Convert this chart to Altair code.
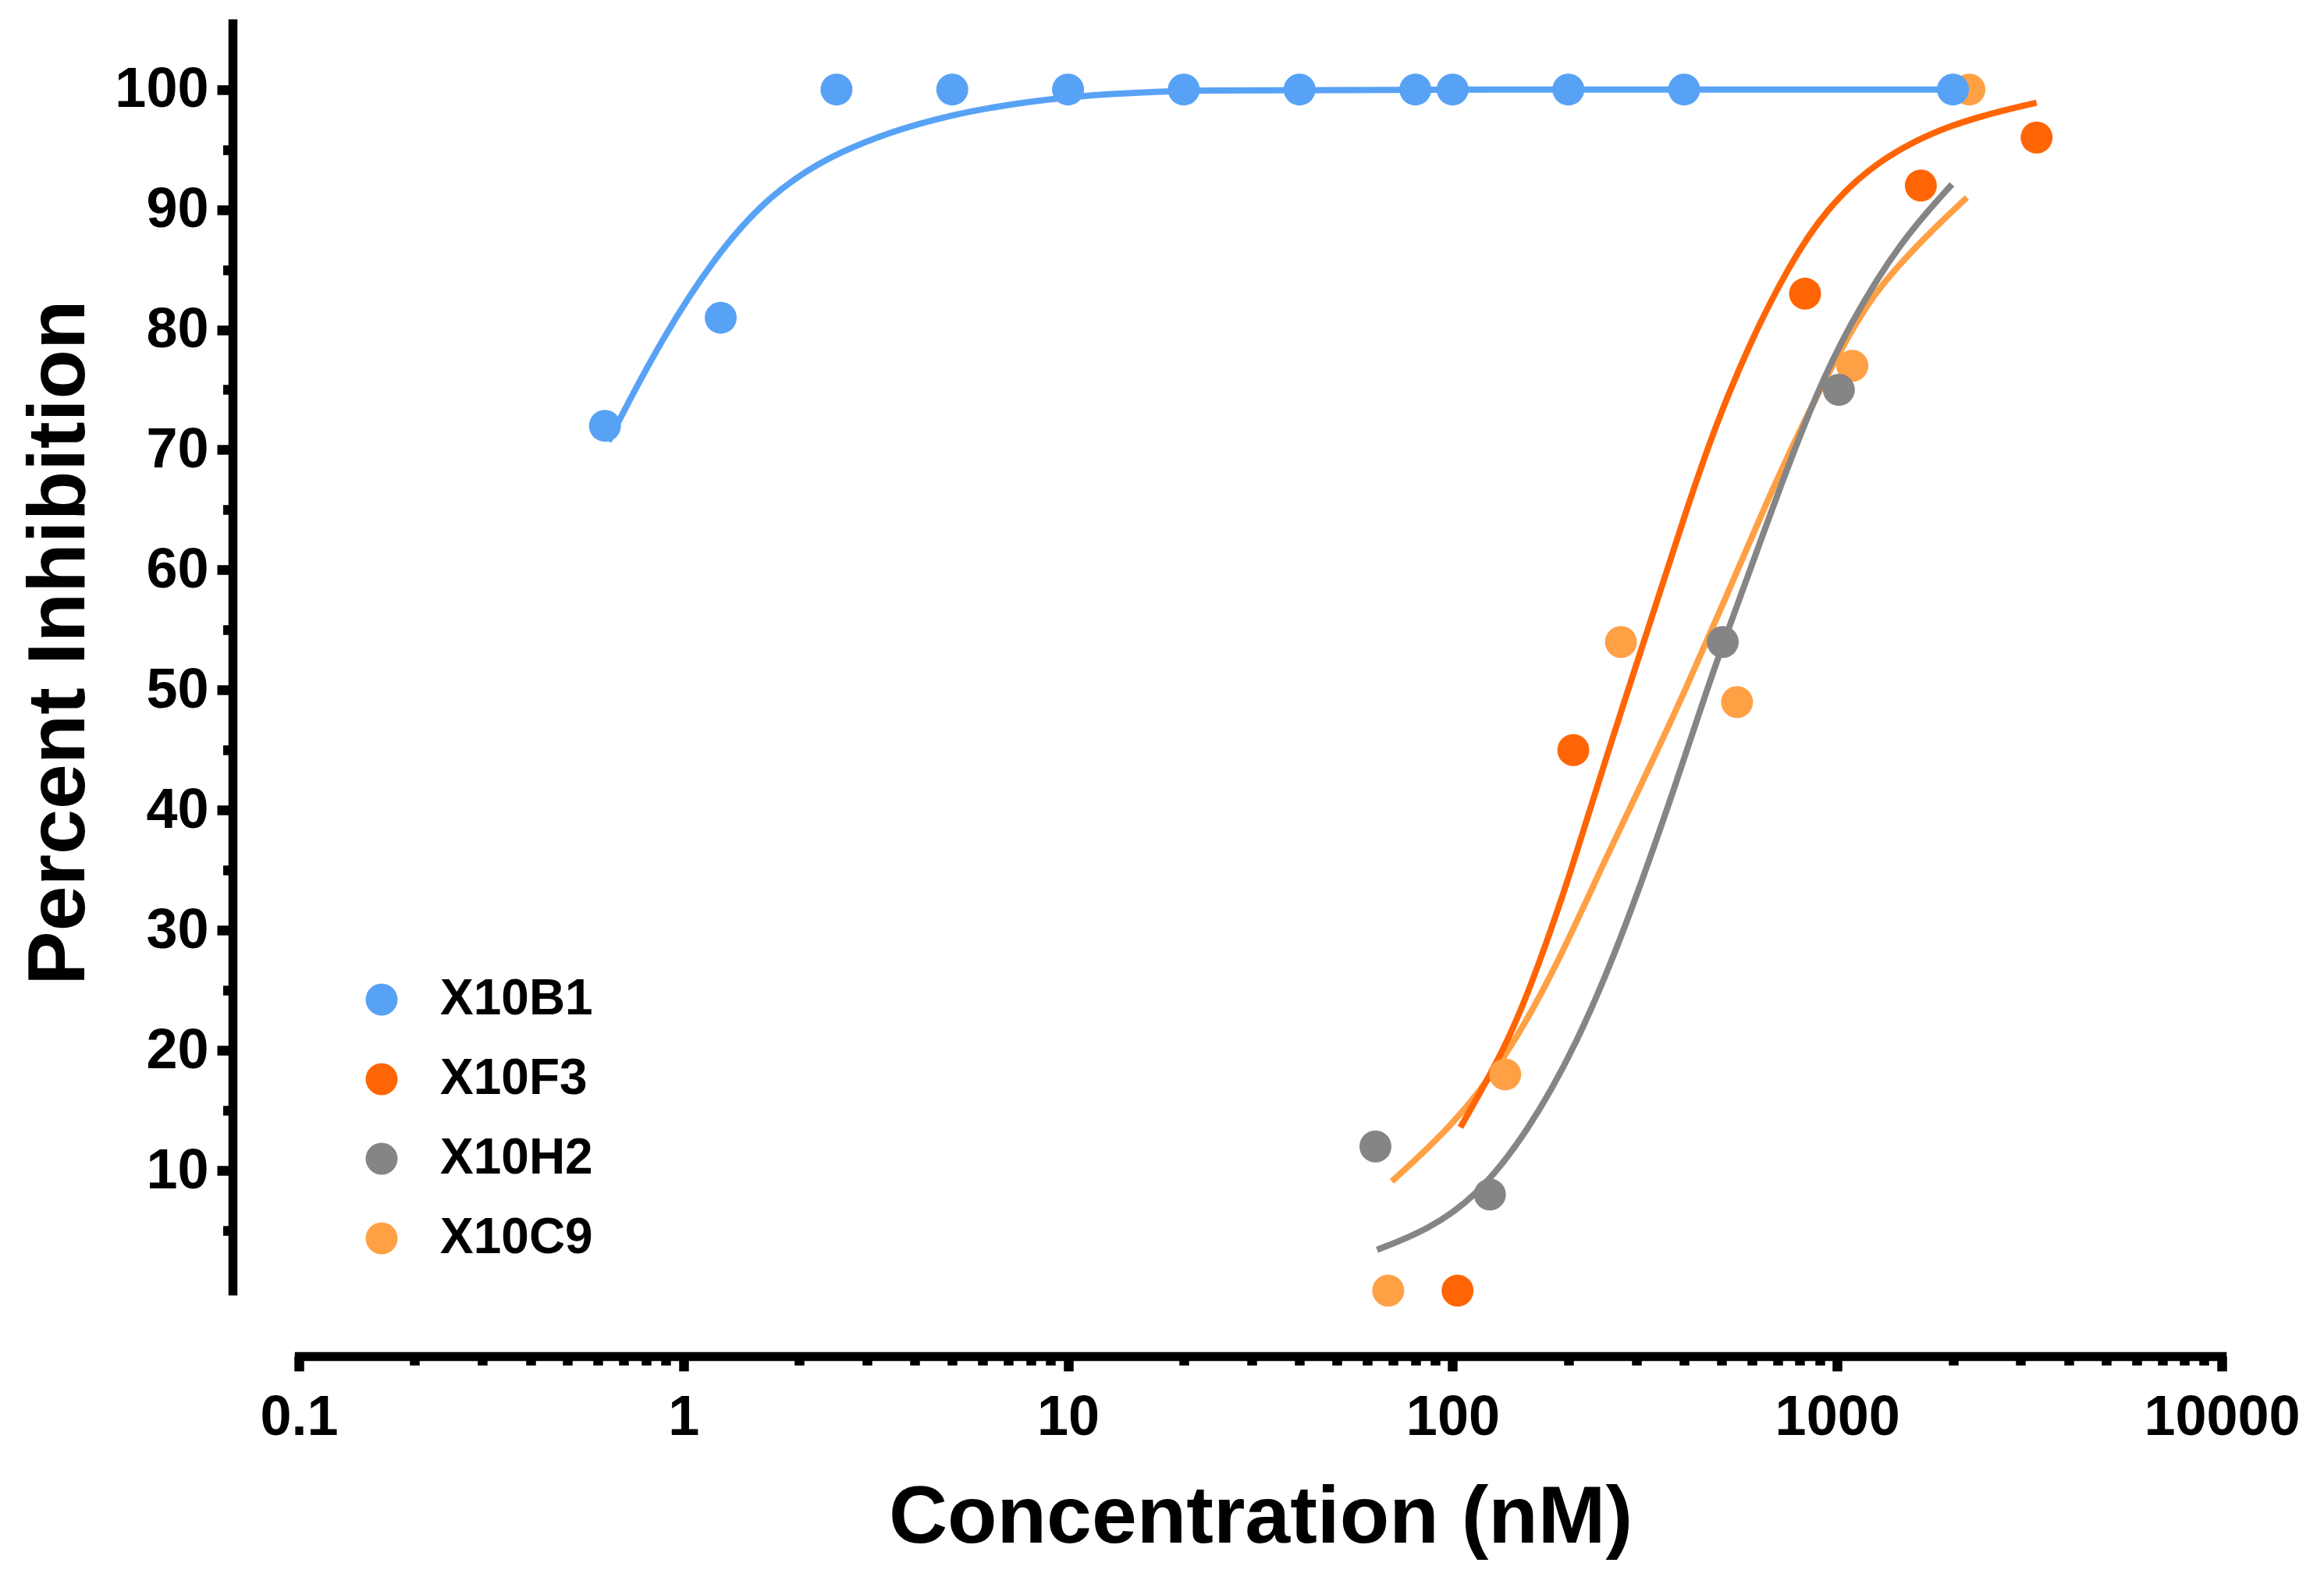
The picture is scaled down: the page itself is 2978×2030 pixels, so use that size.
import altair as alt
import pandas as pd

FONT = "Liberation Sans"

series_names = ["X10B1", "X10F3", "X10H2", "X10C9"]
series_colors = ["#58A2F6", "#FF6505", "#858585", "#FFA045"]

# measured points
conc_B1 = [0.625, 1.25, 2.5, 5, 10, 20, 40, 80, 100, 200, 400, 2000]
inh_B1 = [72, 81, 100, 100, 100, 100, 100, 100, 100, 100, 100, 100]
conc_F3 = [103, 206, 825, 1650, 3300]
inh_F3 = [0, 45, 83, 92, 96]
conc_H2 = [63, 125, 504, 1010]
inh_H2 = [12, 8, 54, 75]
conc_C9 = [68, 137, 274, 549, 1095, 2206]
inh_C9 = [0, 18, 54, 49, 77, 100]

# fitted curves
fit_x_B1 = [0.639, 0.709, 0.887, 1.177, 1.634, 2.48, 4.77, 10.07, 19.95, 100, 2000]
fit_y_B1 = [70.7, 73.6, 79.4, 85.6, 91.0, 94.9, 98.0, 99.5, 100.0, 100.0, 100.0]
fit_x_F3 = [104.8, 137.9, 165, 203, 250, 337, 403.5, 482, 594, 754, 929, 1252, 1959, 3300]
fit_y_F3 = [13.6, 20.3, 26.5, 34.8, 44.3, 57.0, 64.8, 72.0, 79.0, 85.5, 89.9, 94.0, 97.2, 98.9]
fit_x_H2 = [63.6, 85.6, 115.3, 155.3, 209.4, 282.1, 385, 468, 594, 690, 876, 1079, 1454, 1988]
fit_y_H2 = [3.4, 5.0, 7.8, 13.0, 20.3, 30.2, 42.6, 51.0, 60.0, 65.8, 74.5, 80.5, 87.3, 92.1]
fit_x_C9 = [69.5, 99.3, 137.9, 185.9, 250, 330, 403, 512, 650, 825, 1047, 1252, 1688, 2174]
fit_y_C9 = [9.1, 13.6, 19.4, 26.9, 36.0, 44.0, 50.0, 57.6, 65.4, 72.6, 79.0, 83.2, 87.7, 91.0]

x_major_ticks = [0.1, 1, 10, 100, 1000, 10000]
x_minor_ticks = [0.2, 0.3, 0.4, 0.5, 0.6, 0.7, 0.8, 0.9,
                 2, 3, 4, 5, 6, 7, 8, 9,
                 20, 30, 40, 50, 60, 70, 80, 90,
                 200, 300, 400, 500, 600, 700, 800, 900,
                 2000, 3000, 4000, 5000, 6000, 7000, 8000, 9000]
y_major_ticks = [10, 20, 30, 40, 50, 60, 70, 80, 90, 100]
y_minor_ticks = [5, 15, 25, 35, 45, 55, 65, 75, 85, 95]

# draw order: C9, H2, F3, B1 (B1 on top)
pts_rows = []
for name, xs, ys in [("X10C9", conc_C9, inh_C9), ("X10H2", conc_H2, inh_H2),
                     ("X10F3", conc_F3, inh_F3), ("X10B1", conc_B1, inh_B1)]:
    for a, b in zip(xs, ys):
        pts_rows.append({"series": name, "conc": a, "inh": b})
points_df = pd.DataFrame(pts_rows)

fit_rows = []
for name, xs, ys in [("X10C9", fit_x_C9, fit_y_C9), ("X10H2", fit_x_H2, fit_y_H2),
                     ("X10F3", fit_x_F3, fit_y_F3), ("X10B1", fit_x_B1, fit_y_B1)]:
    for a, b in zip(xs, ys):
        fit_rows.append({"series": name, "conc": a, "inh": b})
fit_df = pd.DataFrame(fit_rows)

xscale = alt.Scale(type="log", domain=[0.1, 10000], nice=False)
yscale = alt.Scale(domain=[0, 105.5], nice=False, zero=False)
cscale = alt.Scale(domain=series_names, range=series_colors)

common_axis = dict(domainColor="black", tickColor="black", labelColor="black",
                   labelFont=FONT, labelFontWeight="bold", titleFont=FONT,
                   titleFontWeight="bold", titleColor="black", grid=False, labelLimit=500)

x_major = alt.Axis(values=x_major_ticks, format="~g", orient="bottom", offset=84,
                   domainWidth=11.5, domainCap="square", tickSize=19, tickWidth=12.5,
                   labelFontSize=72, labelPadding=24, labelFlush=False, labelOverlap=False,
                   title="Concentration (nM)", titleFontSize=104, titleX=1232, titleY=238,
                   titleBaseline="alphabetic", titleAlign="center", **common_axis)
y_major = alt.Axis(values=y_major_ticks, orient="left", offset=85,
                   domainWidth=11.5, domainCap="square", tickSize=20, tickWidth=12.5,
                   labelFontSize=72, labelPadding=11, labelOverlap=False,
                   title="Percent Inhibition", titleFontSize=104, titleX=-191, titleY=793,
                   titleAngle=270, titleBaseline="alphabetic", titleAlign="center", **common_axis)
x_minor = alt.Axis(values=x_minor_ticks, orient="bottom", offset=84, domain=False,
                   labels=False, tickSize=11.5, tickWidth=12.5, tickColor="black",
                   grid=False, title=None)
y_minor = alt.Axis(values=y_minor_ticks, orient="left", offset=85, domain=False,
                   labels=False, tickSize=12.5, tickWidth=12.5, tickColor="black",
                   grid=False, title=None)

lines = alt.Chart(fit_df).mark_line(strokeWidth=8, interpolate="basis").encode(
    x=alt.X("conc:Q", scale=xscale, axis=x_major),
    y=alt.Y("inh:Q", scale=yscale, axis=y_major),
    color=alt.Color("series:N", scale=cscale, legend=None),
    detail="series:N",
)

points = alt.Chart(points_df).mark_circle(size=1681, opacity=1).encode(
    x=alt.X("conc:Q", scale=xscale, axis=x_minor),
    y=alt.Y("inh:Q", scale=yscale, axis=y_minor),
    color=alt.Color("series:N", scale=cscale,
                    legend=alt.Legend(orient="none", legendX=74, legendY=1219, title=None,
                                      labelFont=FONT, labelFontWeight="bold",
                                      labelFontSize=64, labelColor="black", labelLimit=500,
                                      symbolType="circle", symbolSize=1681,
                                      symbolOpacity=1, symbolStrokeWidth=0,
                                      labelOffset=43, rowPadding=38, padding=0)),
)

chart = alt.layer(lines, points).resolve_axis(
    x="independent", y="independent"
).resolve_legend(color="independent").properties(
    width=2464, height=1624,
    padding={"left": 375, "top": 22, "right": 120, "bottom": 360},
    autosize=alt.AutoSizeParams(type="none"),
    background="white",
).configure_view(stroke="transparent")

chart.save("out.html", embed_options={"renderer": "svg", "actions": False})
